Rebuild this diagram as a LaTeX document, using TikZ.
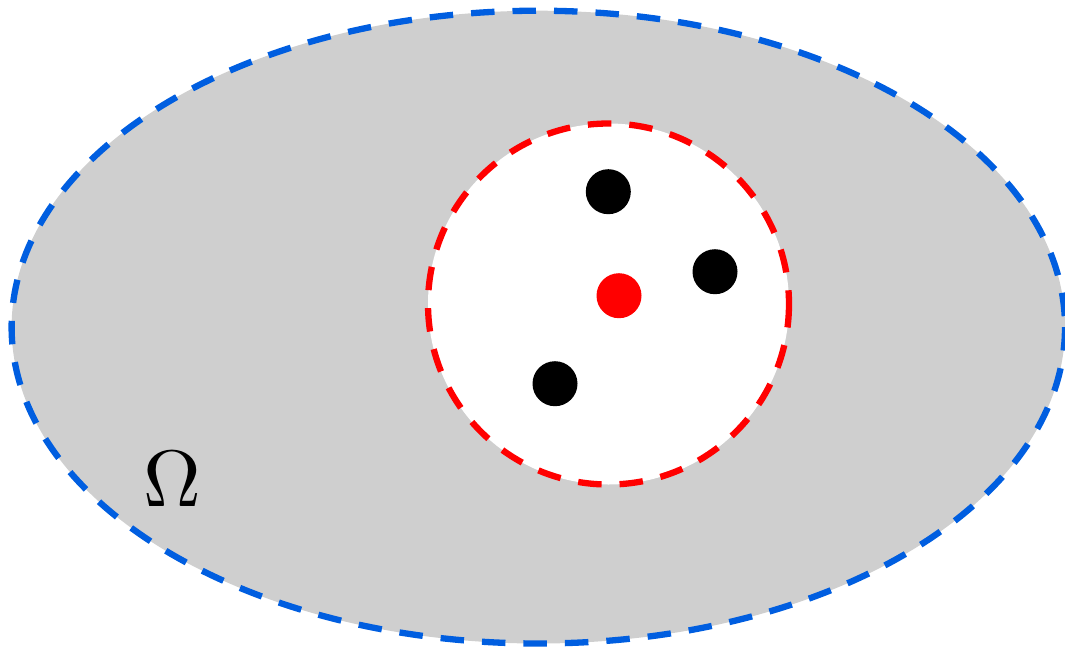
\documentclass[tikz,border=0pt]{standalone}
\definecolor{bluedash}{RGB}{0,94,224}
\definecolor{regiongray}{RGB}{207,207,207}
\begin{document}
\begin{tikzpicture}[x=1pt,y=-1pt,
  dotstyle/.style={circle,inner sep=0pt,minimum size=45pt,fill=black},
  dashline/.style={line width=6.3pt,dash pattern=on 23.5pt off 18pt},
]
\useasboundingbox (0,0) rectangle (1065,648);
\fill[regiongray] (538.3,327.1) ellipse [x radius=526.7, y radius=316.4];
\draw[bluedash,dashline] (538.3,327.1) ellipse [x radius=526.7, y radius=316.4];
\fill[white] (608.5,304) circle [radius=180.5];
\draw[red,dashline] (608.5,304) circle [radius=180.5];
\node[dotstyle] (p1) at (608.3,191.7) {};
\node[dotstyle] (p2) at (715,271.7) {};
\node[dotstyle] (p3) at (555,383.7) {};
\node[dotstyle,fill=red] (c) at (619,295.7) {};
\node[scale=8,inner sep=0pt] (omega) at (172,479) {$\Omega$};
\end{tikzpicture}
\end{document}
